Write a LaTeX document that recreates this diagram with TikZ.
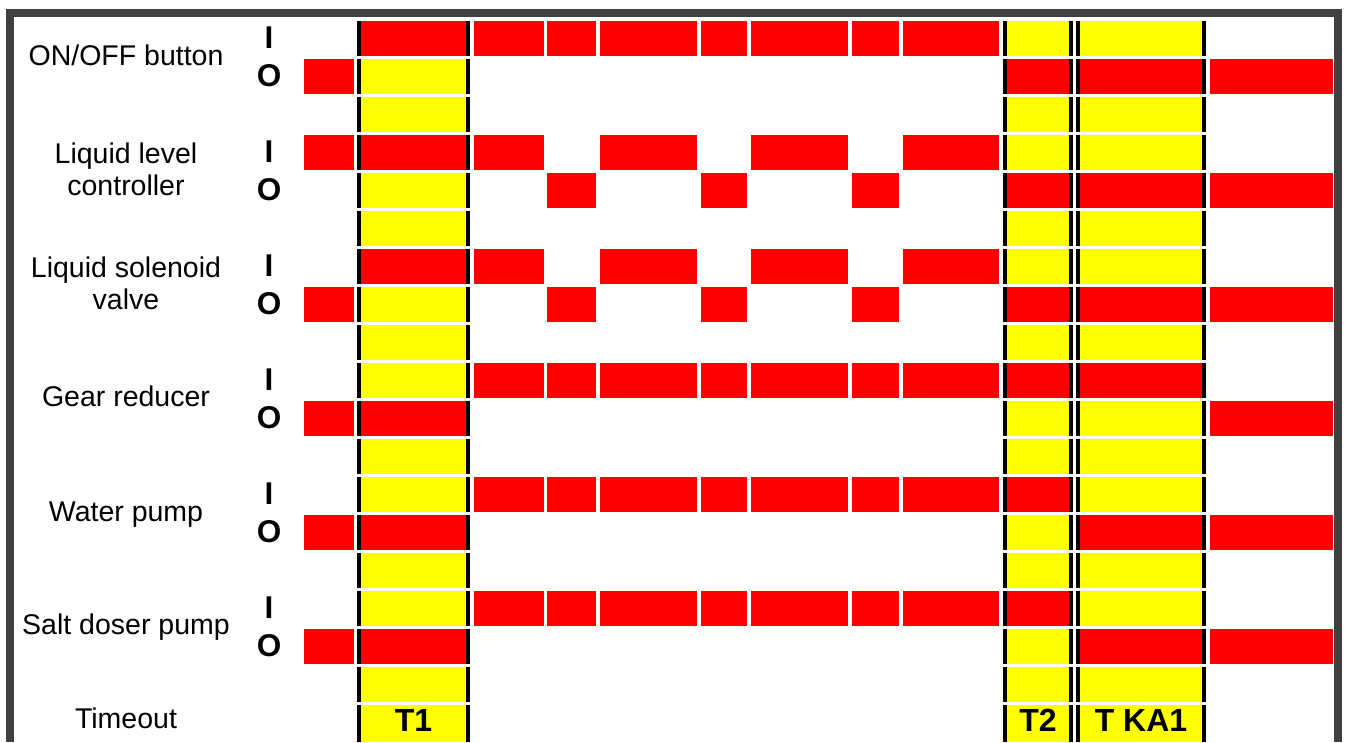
\documentclass[tikz,border=0pt]{standalone}
\usepackage{fontspec}
\setmainfont{Liberation Sans}
\definecolor{redc}{HTML}{FF0000}
\definecolor{yelc}{HTML}{FFFF00}
\definecolor{framec}{HTML}{404040}
\newcommand\redcell[3]{\fill[redc] (#1,{21+38*#3}) rectangle (#2,{55.7+38*#3});}
\newcommand\timecell[4]{%
  \fill[#4] (#1,{21+38*#3}) rectangle (#2,{55.7+38*#3});
  \fill[black] (#1,{21+38*#3}) rectangle ({#1+4.4},{55.7+38*#3});
  \fill[black] ({#2-4.4},{21+38*#3}) rectangle (#2,{55.7+38*#3});}
\newcommand\lastcell[2]{%
  \fill[yelc] (#1,705) rectangle (#2,742);
  \fill[black] (#1,705) rectangle ({#1+4.4},742);
  \fill[black] ({#2-4.4},705) rectangle (#2,742);}
\begin{document}
\begin{tikzpicture}[x=1pt,y=-1pt,
  lab/.style={font=\fontsize{28.5}{32}\selectfont, anchor=base, inner sep=0pt},
  io/.style={font=\bfseries\fontsize{31.5}{32}\selectfont, anchor=base, inner sep=0pt},
  tl/.style={font=\bfseries\fontsize{32}{32}\selectfont, anchor=base, inner sep=0pt}]
\useasboundingbox (0,0) rectangle (1346,742);
% frame
\draw[line width=7.5pt, framec, line join=miter] (10,742) -- (10,13) -- (1338,13) -- (1338,742);
% timing columns
\foreach \k in {0,...,17}{\timecell{357}{470}{\k}{yelc}\timecell{1003}{1073}{\k}{yelc}\timecell{1076}{1206}{\k}{yelc}}
\foreach \k in {0,3,6,10,13,16}{\timecell{357}{470}{\k}{redc}}
\foreach \k in {1,4,7,9,12,15}{\timecell{1003}{1073}{\k}{redc}}
\foreach \k in {1,4,7,9,13,16}{\timecell{1076}{1206}{\k}{redc}}
\lastcell{357}{470}\lastcell{1003}{1073}\lastcell{1076}{1206}
% red cells: columns c1..c7 for full-on rows
\foreach \k in {0,9,12,15}{%
  \redcell{474}{544}{\k}\redcell{547}{596}{\k}\redcell{600}{697}{\k}\redcell{701}{747}{\k}%
  \redcell{751}{848}{\k}\redcell{852}{899}{\k}\redcell{903}{999}{\k}}
% c0 and c8 for off rows
\foreach \k in {1,10,13,16}{\redcell{304}{354}{\k}\redcell{1210}{1333}{\k}}
% liquid level controller
\redcell{304}{354}{3}\redcell{474}{544}{3}\redcell{600}{697}{3}\redcell{751}{848}{3}\redcell{903}{999}{3}
\redcell{547}{596}{4}\redcell{701}{747}{4}\redcell{852}{899}{4}\redcell{1210}{1333}{4}
% liquid solenoid valve
\redcell{474}{544}{6}\redcell{600}{697}{6}\redcell{751}{848}{6}\redcell{903}{999}{6}
\redcell{304}{354}{7}\redcell{547}{596}{7}\redcell{701}{747}{7}\redcell{852}{899}{7}\redcell{1210}{1333}{7}
% row labels
\node[lab] (l1) at (126,65.7) {ON/OFF button};
\node[lab] (l2a) at (126,163) {Liquid level};
\node[lab] (l2b) at (126,195) {controller};
\node[lab] (l3a) at (126,277) {Liquid solenoid};
\node[lab] (l3b) at (126,309) {valve};
\node[lab] (l4) at (126,406.7) {Gear reducer};
\node[lab] (l5) at (126,521) {Water pump};
\node[lab] (l6) at (126,634.5) {Salt doser pump};
\node[lab] (l7) at (126,728) {Timeout};
% I/O marks
\foreach \r in {0,...,5}{%
  \node[io] (i\r) at (269,{48.3+114*\r}) {I};
  \node[io] (o\r) at (269,{86.5+114*\r}) {O};}
% timeout labels
\node[tl] (t1) at (413.5,731) {T1};
\node[tl] (t2) at (1038,731) {T2};
\node[tl] (t3) at (1141,731) {T KA1};
\end{tikzpicture}
\end{document}
